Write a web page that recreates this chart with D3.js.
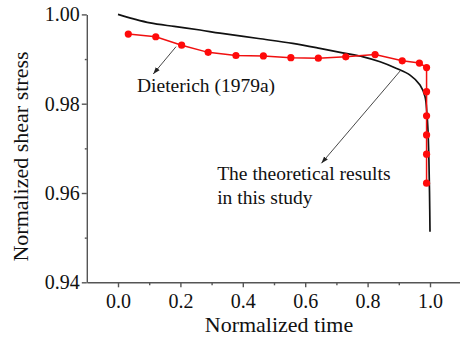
<!DOCTYPE html>
<html><head><meta charset="utf-8">
<script src="https://cdn.jsdelivr.net/npm/d3@7/dist/d3.min.js"></script>
<style>body{margin:0;background:#fff}svg{display:block}text{font-family:"Liberation Serif","Times New Roman",serif;fill:#111}</style>
</head><body>
<svg id="c" width="460" height="340"></svg>
<script>
// Experimental data (Dieterich 1979a)
const expTime   = [0.033,0.121,0.204,0.289,0.378,0.466,0.554,0.642,0.730,0.824,0.911,0.966,0.989,0.989,0.989,0.989,0.989,0.989];
const expStress = [0.9956,0.9950,0.9931,0.9915,0.9908,0.9907,0.9903,0.9902,0.9905,0.9910,0.9896,0.9891,0.9881,0.9827,0.9773,0.9730,0.9687,0.9622];
// Theoretical curve
const thTime   = [0.000,0.050,0.103,0.180,0.263,0.327,0.450,0.560,0.647,0.720,0.786,0.840,0.893,0.936,0.968,0.984,0.990,0.9935,0.9965,0.9985,1.000];
const thStress = [1.0000,0.9990,0.9981,0.9973,0.9965,0.9958,0.9946,0.9935,0.9924,0.9914,0.9905,0.9894,0.9879,0.9864,0.9842,0.9816,0.9779,0.9741,0.9674,0.9600,0.9513];
const xMajor = [0,0.2,0.4,0.6,0.8,1.0];
const xMinor = [0.1,0.3,0.5,0.7,0.9];
const yMajor = [0.94,0.96,0.98,1.00];
const yMinor = [0.95,0.97,0.99];
const xTitle = "Normalized time";
const yTitle = "Normalized shear stress";
const notes = [
  {lines:["Dieterich (1979a)"], x:0.061, y:0.9826, from:[0.186,0.99277], to:[0.113,0.98665]},
  {lines:["The theoretical results","in this study"], x:0.318, y:0.9629, from:[0.905,0.98739], to:[0.652,0.96665]}
];

const svg = d3.select("#c");
const x = d3.scaleLinear([-0.1,1.1],[86.8,461.2]);
const y = d3.scaleLinear([0.94,1.00],[282.3,14.4]);

svg.append("defs").append("marker").attr("id","ah").attr("viewBox","0 0 10 10")
  .attr("refX",10).attr("refY",5).attr("markerWidth",7).attr("markerHeight",7)
  .attr("markerUnits","userSpaceOnUse").attr("orient","auto")
  .append("path").attr("d","M0,1.5L10,5L0,8.5Z").attr("fill","#222");

// axes
const gx = svg.append("g").attr("transform",`translate(0,${y(0.94)})`)
  .call(d3.axisBottom(x).tickValues(xMajor).tickFormat(d3.format(".1f")).tickSize(5).tickSizeOuter(0).tickPadding(7));
const gxm = svg.append("g").attr("transform",`translate(0,${y(0.94)})`)
  .call(d3.axisBottom(x).tickValues(xMinor).tickFormat("").tickSize(3).tickSizeOuter(0));
const gy = svg.append("g").attr("transform",`translate(${x(-0.1)},0)`)
  .call(d3.axisLeft(y).tickValues(yMajor).tickFormat(d3.format(".2f")).tickSize(5).tickSizeOuter(0).tickPadding(2));
const gym = svg.append("g").attr("transform",`translate(${x(-0.1)},0)`)
  .call(d3.axisLeft(y).tickValues(yMinor).tickFormat("").tickSize(2).tickSizeOuter(0));
[gx,gxm,gy,gym].forEach(g=>{
  g.selectAll("path,line").attr("stroke","#555").attr("stroke-width",1.4);
  g.selectAll("text").attr("font-size",20).attr("font-family","Liberation Serif").attr("fill","#111");
});
gxm.select(".domain").remove(); gym.select(".domain").remove();

svg.append("text").attr("x",279).attr("y",332).attr("text-anchor","middle").attr("font-size",22).text(xTitle);
svg.append("text").attr("transform",`translate(28,${156.5}) rotate(-90)`).attr("text-anchor","middle").attr("font-size",22).text(yTitle);

// theoretical curve
const th = thTime.map((t,i)=>[t,thStress[i]]);
svg.append("path").datum(th).attr("fill","none").attr("stroke","#111").attr("stroke-width",1.7)
  .attr("d",d3.line().x(d=>x(d[0])).y(d=>y(d[1])).curve(d3.curveCatmullRom.alpha(0.5)));

// experimental
const ex = expTime.map((t,i)=>[t,expStress[i]]);
svg.append("path").datum(ex).attr("fill","none").attr("stroke","#f01010").attr("stroke-width",1.5)
  .attr("d",d3.line().x(d=>x(d[0])).y(d=>y(d[1])));
svg.selectAll("circle.e").data(ex).join("circle").attr("class","e")
  .attr("cx",d=>x(d[0])).attr("cy",d=>y(d[1])).attr("r",3.6).attr("fill","#ff0a0a");

// annotations
notes.forEach(n=>{
  svg.append("line").attr("x1",x(n.from[0])).attr("y1",y(n.from[1])).attr("x2",x(n.to[0])).attr("y2",y(n.to[1]))
    .attr("stroke","#333").attr("stroke-width",0.9).attr("marker-end","url(#ah)");
  const t = svg.append("text").attr("x",x(n.x)).attr("y",y(n.y)).attr("font-size",19.5);
  n.lines.forEach((l,i)=>t.append("tspan").attr("x",x(n.x)).attr("dy",i?23.5:0).text(l));
});
</script>
</body></html>
